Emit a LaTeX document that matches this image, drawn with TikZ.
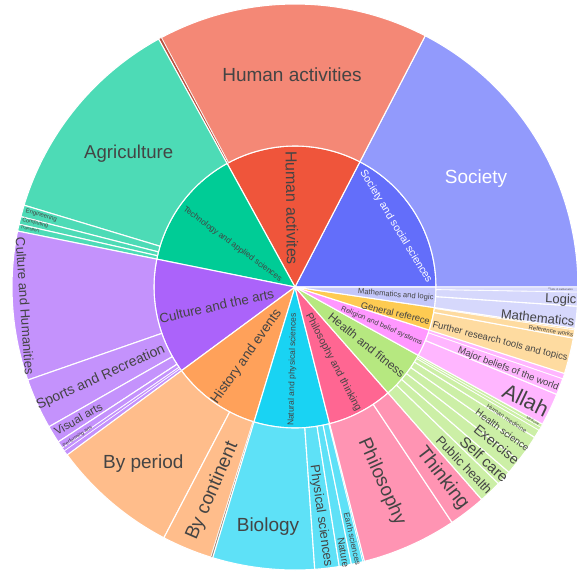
\documentclass[tikz,border=0pt]{standalone}
\usepackage{fontspec}
\setmainfont{Liberation Sans}

\definecolor{society}{HTML}{636EFA}
\definecolor{societyL}{HTML}{929AFC}
\definecolor{human}{HTML}{EF553B}
\definecolor{humanL}{HTML}{F48876}
\definecolor{humanD}{HTML}{B9503E}
\definecolor{techno}{HTML}{00CC96}
\definecolor{technoL}{HTML}{4DDBB6}
\definecolor{culture}{HTML}{AB63FA}
\definecolor{cultureL}{HTML}{C492FC}
\definecolor{history}{HTML}{FFA15A}
\definecolor{historyL}{HTML}{FFBD8B}
\definecolor{historyD}{HTML}{A08A78}
\definecolor{natural}{HTML}{19D3F3}
\definecolor{naturalL}{HTML}{5EE1F7}
\definecolor{philo}{HTML}{FF6692}
\definecolor{philoL}{HTML}{FF94B3}
\definecolor{health}{HTML}{B6E880}
\definecolor{healthL}{HTML}{CCEFA6}
\definecolor{religion}{HTML}{FF97FF}
\definecolor{religionL}{HTML}{FFB6FF}
\definecolor{general}{HTML}{FECB52}
\definecolor{generalL}{HTML}{FEDBA0}
\definecolor{mathlog}{HTML}{C4C7FA}
\definecolor{mathlogL}{HTML}{D6D8FC}
\definecolor{txtgray}{HTML}{444444}

\tikzset{every picture/.style={line width=1pt}}
\tikzset{seg/.style={draw=white,line width=1.1pt,line join=round}}
\tikzset{lbl/.style={text=txtgray,inner sep=0pt}}

\begin{document}
\begin{tikzpicture}[x=1pt,y=1pt]
\useasboundingbox (-295,-285) rectangle (282,287);

%Shape: Sector [Society and social sciences]
\filldraw [seg,fill=society] (0,0) -- (0:141) arc[start angle=0,end angle=62.6,radius=141] -- cycle ;
%Shape: Sector [Human activites]
\filldraw [seg,fill=human] (0,0) -- (62.6:141) arc[start angle=62.6,end angle=118.8,radius=141] -- cycle ;
%Shape: Sector [Technology and applied sciences]
\filldraw [seg,fill=techno] (0,0) -- (118.8:141) arc[start angle=118.8,end angle=168.6,radius=141] -- cycle ;
%Shape: Sector [Culture and the arts]
\filldraw [seg,fill=culture] (0,0) -- (168.6:141) arc[start angle=168.6,end angle=216.4,radius=141] -- cycle ;
%Shape: Sector [History and events]
\filldraw [seg,fill=history] (0,0) -- (216.4:141) arc[start angle=216.4,end angle=253.1,radius=141] -- cycle ;
%Shape: Sector [Natural and physical sciences]
\filldraw [seg,fill=natural] (0,0) -- (253.1:141) arc[start angle=253.1,end angle=284.2,radius=141] -- cycle ;
%Shape: Sector [Philosophy and thinking]
\filldraw [seg,fill=philo] (0,0) -- (284.2:141) arc[start angle=284.2,end angle=311.3,radius=141] -- cycle ;
%Shape: Sector [Health and fitness]
\filldraw [seg,fill=health] (0,0) -- (311.3:141) arc[start angle=311.3,end angle=331,radius=141] -- cycle ;
%Shape: Sector [Religion and belief systems]
\filldraw [seg,fill=religion] (0,0) -- (331:141) arc[start angle=331,end angle=342.2,radius=141] -- cycle ;
%Shape: Sector [General referece]
\filldraw [seg,fill=general] (0,0) -- (342.2:141) arc[start angle=342.2,end angle=351.6,radius=141] -- cycle ;
%Shape: Sector [Mathematics and logic]
\filldraw [seg,fill=mathlog] (0,0) -- (351.6:141) arc[start angle=351.6,end angle=360,radius=141] -- cycle ;

%Shape: Ring Sector [Society]
\filldraw [seg,fill=societyL] (0:141) arc[start angle=0,end angle=62.6,radius=141] -- (62.6:283) arc[start angle=62.6,end angle=0,radius=283] -- cycle ;
%Shape: Ring Sector [Human activities]
\filldraw [seg,fill=humanL] (62.6:141) arc[start angle=62.6,end angle=118.2,radius=141] -- (118.2:283) arc[start angle=118.2,end angle=62.6,radius=283] -- cycle ;
\filldraw [seg,fill=humanD,line width=0.5pt] (118.2:141) arc[start angle=118.2,end angle=118.8,radius=141] -- (118.8:283) arc[start angle=118.8,end angle=118.2,radius=283] -- cycle ;
%Shape: Ring Sector [Agriculture]
\filldraw [seg,fill=technoL] (118.8:141) arc[start angle=118.8,end angle=163.2,radius=141] -- (163.2:283) arc[start angle=163.2,end angle=118.8,radius=283] -- cycle ;
%Shape: Ring Sector [Engineering]
\filldraw [seg,fill=technoL] (163.2:141) arc[start angle=163.2,end angle=165.6,radius=141] -- (165.6:283) arc[start angle=165.6,end angle=163.2,radius=283] -- cycle ;
%Shape: Ring Sector [Computing]
\filldraw [seg,fill=technoL] (165.6:141) arc[start angle=165.6,end angle=167.2,radius=141] -- (167.2:283) arc[start angle=167.2,end angle=165.6,radius=283] -- cycle ;
%Shape: Ring Sector [Transport]
\filldraw [seg,fill=technoL] (167.2:141) arc[start angle=167.2,end angle=168.6,radius=141] -- (168.6:283) arc[start angle=168.6,end angle=167.2,radius=283] -- cycle ;
%Shape: Ring Sector [Culture and Humanities]
\filldraw [seg,fill=cultureL] (168.6:141) arc[start angle=168.6,end angle=199.2,radius=141] -- (199.2:283) arc[start angle=199.2,end angle=168.6,radius=283] -- cycle ;
%Shape: Ring Sector [Sports and Recreation]
\filldraw [seg,fill=cultureL] (199.2:141) arc[start angle=199.2,end angle=209.6,radius=141] -- (209.6:283) arc[start angle=209.6,end angle=199.2,radius=283] -- cycle ;
%Shape: Ring Sector [Visual arts]
\filldraw [seg,fill=cultureL] (209.6:141) arc[start angle=209.6,end angle=213.2,radius=141] -- (213.2:283) arc[start angle=213.2,end angle=209.6,radius=283] -- cycle ;
%Shape: Ring Sector [Performing arts]
\filldraw [seg,fill=cultureL] (213.2:141) arc[start angle=213.2,end angle=214.7,radius=141] -- (214.7:283) arc[start angle=214.7,end angle=213.2,radius=283] -- cycle ;
\filldraw [seg,fill=cultureL,line width=0.6pt] (214.7:141) arc[start angle=214.7,end angle=215.4,radius=141] -- (215.4:283) arc[start angle=215.4,end angle=214.7,radius=283] -- cycle ;
\filldraw [seg,fill=cultureL,line width=0.6pt] (215.4:141) arc[start angle=215.4,end angle=216.4,radius=141] -- (216.4:283) arc[start angle=216.4,end angle=215.4,radius=283] -- cycle ;
%Shape: Ring Sector [By period]
\filldraw [seg,fill=historyL] (216.4:141) arc[start angle=216.4,end angle=242.4,radius=141] -- (242.4:283) arc[start angle=242.4,end angle=216.4,radius=283] -- cycle ;
%Shape: Ring Sector [By continent]
\filldraw [seg,fill=historyL] (242.4:141) arc[start angle=242.4,end angle=252.7,radius=141] -- (252.7:283) arc[start angle=252.7,end angle=242.4,radius=283] -- cycle ;
\filldraw [seg,fill=historyD,line width=0.5pt] (252.7:141) arc[start angle=252.7,end angle=253.1,radius=141] -- (253.1:283) arc[start angle=253.1,end angle=252.7,radius=283] -- cycle ;
%Shape: Ring Sector [Biology]
\filldraw [seg,fill=naturalL] (253.1:141) arc[start angle=253.1,end angle=274,radius=141] -- (274:283) arc[start angle=274,end angle=253.1,radius=283] -- cycle ;
%Shape: Ring Sector [Physical sciences]
\filldraw [seg,fill=naturalL] (274:141) arc[start angle=274,end angle=279,radius=141] -- (279:283) arc[start angle=279,end angle=274,radius=283] -- cycle ;
%Shape: Ring Sector [Nature]
\filldraw [seg,fill=naturalL] (279:141) arc[start angle=279,end angle=281.5,radius=141] -- (281.5:283) arc[start angle=281.5,end angle=279,radius=283] -- cycle ;
%Shape: Ring Sector [Earth sciences]
\filldraw [seg,fill=naturalL] (281.5:141) arc[start angle=281.5,end angle=283.9,radius=141] -- (283.9:283) arc[start angle=283.9,end angle=281.5,radius=283] -- cycle ;
\filldraw [seg,fill=naturalL,line width=0.5pt] (283.9:141) arc[start angle=283.9,end angle=284.2,radius=141] -- (284.2:283) arc[start angle=284.2,end angle=283.9,radius=283] -- cycle ;
%Shape: Ring Sector [Philosophy]
\filldraw [seg,fill=philoL] (284.2:141) arc[start angle=284.2,end angle=303.7,radius=141] -- (303.7:283) arc[start angle=303.7,end angle=284.2,radius=283] -- cycle ;
%Shape: Ring Sector [Thinking]
\filldraw [seg,fill=philoL] (303.7:141) arc[start angle=303.7,end angle=311.3,radius=141] -- (311.3:283) arc[start angle=311.3,end angle=303.7,radius=283] -- cycle ;
%Shape: Ring Sector [Public health]
\filldraw [seg,fill=healthL] (311.3:141) arc[start angle=311.3,end angle=316,radius=141] -- (316:283) arc[start angle=316,end angle=311.3,radius=283] -- cycle ;
%Shape: Ring Sector [Self care]
\filldraw [seg,fill=healthL] (316:141) arc[start angle=316,end angle=319.1,radius=141] -- (319.1:283) arc[start angle=319.1,end angle=316,radius=283] -- cycle ;
%Shape: Ring Sector [Exercise]
\filldraw [seg,fill=healthL] (319.1:141) arc[start angle=319.1,end angle=322.2,radius=141] -- (322.2:283) arc[start angle=322.2,end angle=319.1,radius=283] -- cycle ;
%Shape: Ring Sector [Health science]
\filldraw [seg,fill=healthL] (322.2:141) arc[start angle=322.2,end angle=325.2,radius=141] -- (325.2:283) arc[start angle=325.2,end angle=322.2,radius=283] -- cycle ;
%Shape: Ring Sector [Human medicine]
\filldraw [seg,fill=healthL] (325.2:141) arc[start angle=325.2,end angle=327.9,radius=141] -- (327.9:283) arc[start angle=327.9,end angle=325.2,radius=283] -- cycle ;
%Shape: Ring Sector [Medicine]
\filldraw [seg,fill=healthL] (327.9:141) arc[start angle=327.9,end angle=329.6,radius=141] -- (329.6:283) arc[start angle=329.6,end angle=327.9,radius=283] -- cycle ;
\filldraw [seg,fill=healthL,line width=0.6pt] (329.6:141) arc[start angle=329.6,end angle=330.3,radius=141] -- (330.3:283) arc[start angle=330.3,end angle=329.6,radius=283] -- cycle ;
\filldraw [seg,fill=healthL,line width=0.6pt] (330.3:141) arc[start angle=330.3,end angle=331,radius=141] -- (331:283) arc[start angle=331,end angle=330.3,radius=283] -- cycle ;
%Shape: Ring Sector [Allah]
\filldraw [seg,fill=religionL] (331:141) arc[start angle=331,end angle=337.7,radius=141] -- (337.7:283) arc[start angle=337.7,end angle=331,radius=283] -- cycle ;
%Shape: Ring Sector [Major beliefs of the world]
\filldraw [seg,fill=religionL] (337.7:141) arc[start angle=337.7,end angle=341.1,radius=141] -- (341.1:283) arc[start angle=341.1,end angle=337.7,radius=283] -- cycle ;
\filldraw [seg,fill=religionL,line width=0.6pt] (341.1:141) arc[start angle=341.1,end angle=342.2,radius=141] -- (342.2:283) arc[start angle=342.2,end angle=341.1,radius=283] -- cycle ;
%Shape: Ring Sector [Further research tools and topics]
\filldraw [seg,fill=generalL] (342.2:141) arc[start angle=342.2,end angle=349.6,radius=141] -- (349.6:283) arc[start angle=349.6,end angle=342.2,radius=283] -- cycle ;
%Shape: Ring Sector [Reference works]
\filldraw [seg,fill=generalL] (349.6:141) arc[start angle=349.6,end angle=351.3,radius=141] -- (351.3:283) arc[start angle=351.3,end angle=349.6,radius=283] -- cycle ;
\filldraw [seg,fill=generalL,line width=0.5pt] (351.3:141) arc[start angle=351.3,end angle=351.6,radius=141] -- (351.6:283) arc[start angle=351.6,end angle=351.3,radius=283] -- cycle ;
%Shape: Ring Sector [Mathematics]
\filldraw [seg,fill=mathlogL] (351.6:141) arc[start angle=351.6,end angle=356.1,radius=141] -- (356.1:283) arc[start angle=356.1,end angle=351.6,radius=283] -- cycle ;
%Shape: Ring Sector [Logic]
\filldraw [seg,fill=mathlogL] (356.1:141) arc[start angle=356.1,end angle=359,radius=141] -- (359:283) arc[start angle=359,end angle=356.1,radius=283] -- cycle ;
%Shape: Ring Sector [Fields of mathematics]
\filldraw [seg,fill=mathlogL,line width=0.6pt] (359:141) arc[start angle=359,end angle=360,radius=141] -- (360:283) arc[start angle=360,end angle=359,radius=283] -- cycle ;

% Text Node
\node [lbl,rotate=-89.3,font=\fontsize{16}{16}\selectfont] (tHumanIn) at (-3,79) {Human activites};
% Text Node
\node [lbl,text=white,rotate=-58.7,font=\fontsize{10.6}{10.6}\selectfont] (tSocietyIn) at (100.8,60.3) {Society and social sciences};
% Text Node
\node [lbl,rotate=-36.3,font=\fontsize{8.2}{8.2}\selectfont] (tTechIn) at (-62.5,42.8) {Technology and applied sciences};
% Text Node
\node [lbl,rotate=12.5,font=\fontsize{13.3}{13.3}\selectfont] (tCultureIn) at (-78.3,-18.8) {Culture and the arts};
% Text Node
\node [lbl,rotate=54.7,font=\fontsize{13.5}{13.5}\selectfont] (tHistoryIn) at (-48.3,-69.7) {History and events};
% Text Node
\node [lbl,rotate=88.7,font=\fontsize{8.5}{8.5}\selectfont] (tNaturalIn) at (-2.5,-82.7) {Natural and physical sciences};
% Text Node
\node [lbl,rotate=-62.2,font=\fontsize{10.3}{10.3}\selectfont] (tPhiloIn) at (38.3,-75.5) {Philosophy and thinking};
% Text Node
\node [lbl,rotate=-38.9,font=\fontsize{11.8}{11.8}\selectfont] (tHealthIn) at (71.7,-58) {Health and fitness};
% Text Node
\node [lbl,rotate=-23.4,font=\fontsize{7.2}{7.2}\selectfont] (tReligionIn) at (86.7,-38.8) {Religion and belief systems};
% Text Node
\node [lbl,rotate=-13.1,font=\fontsize{9.4}{9.4}\selectfont] (tGeneralIn) at (100.5,-26) {General referece};
% Text Node
\node [lbl,rotate=-4.6,font=\fontsize{7.6}{7.6}\selectfont] (tMathIn) at (100.8,-8) {Mathematics and logic};

% Text Node
\node [lbl,font=\fontsize{19}{19}\selectfont] (tHumanOut) at (-3,212) {Human activities};
% Text Node
\node [lbl,text=white,font=\fontsize{19}{19}\selectfont] (tSocietyOut) at (181,108) {Society};
% Text Node
\node [lbl,font=\fontsize{18.6}{18.6}\selectfont] (tAgri) at (-166.3,133) {Agriculture};
% Text Node
\node [lbl,rotate=-15.6,font=\fontsize{6}{6}\selectfont] (tEngin) at (-253.7,71.5) {Engineering};
% Text Node
\node [lbl,rotate=-13.6,font=\fontsize{5.5}{5.5}\selectfont] (tComput) at (-259.7,64) {Computing};
% Text Node
\node [lbl,rotate=-12.1,font=\fontsize{4.5}{4.5}\selectfont] (tTransp) at (-265,57.7) {Transport};
% Text Node
\node [lbl,rotate=-86.1,font=\fontsize{13.2}{13.2}\selectfont] (tCultHum) at (-270,-19) {Culture and Humanities};
% Text Node
\node [lbl,rotate=24.4,font=\fontsize{14}{14}\selectfont] (tSports) at (-194.2,-90.5) {Sports and Recreation};
% Text Node
\node [lbl,rotate=30,font=\fontsize{11.5}{11.5}\selectfont] (tVisual) at (-216.7,-132) {Visual arts};
% Text Node
\node [lbl,rotate=34,font=\fontsize{5}{5}\selectfont] (tPerform) at (-217.5,-149.7) {Performing arts};
% Text Node
\node [lbl,font=\fontsize{19}{19}\selectfont] (tPeriod) at (-151.7,-176.3) {By period};
% Text Node
\node [lbl,rotate=66.5,font=\fontsize{19}{19}\selectfont] (tContinent) at (-82.5,-203.8) {By continent};
% Text Node
\node [lbl,font=\fontsize{19}{19}\selectfont] (tBiology) at (-27,-240) {Biology};
% Text Node
\node [lbl,rotate=-82,font=\fontsize{13}{13}\selectfont] (tPhysical) at (26,-229) {Physical sciences};
% Text Node
\node [lbl,rotate=-79.7,font=\fontsize{10}{10}\selectfont] (tNature) at (48.3,-265.5) {Nature};
% Text Node
\node [lbl,rotate=-77.3,font=\fontsize{8.2}{8.2}\selectfont] (tEarth) at (57.5,-252) {Earth sciences};
% Text Node
\node [lbl,rotate=-66,font=\fontsize{19}{19}\selectfont] (tPhiloOut) at (86.7,-194.7) {Philosophy};
% Text Node
\node [lbl,rotate=-52.5,font=\fontsize{19.5}{19.5}\selectfont] (tThinking) at (147.5,-191.3) {Thinking};
% Text Node
\node [lbl,rotate=-46.3,font=\fontsize{13}{13}\selectfont] (tPublic) at (169.2,-178) {Public health};
% Text Node
\node [lbl,rotate=-42.4,font=\fontsize{15}{15}\selectfont] (tSelf) at (189.2,-172.2) {Self care};
% Text Node
\node [lbl,rotate=-39.3,font=\fontsize{14}{14}\selectfont] (tExercise) at (201.7,-157.2) {Exercise};
% Text Node
\node [lbl,rotate=-36.3,font=\fontsize{9.7}{9.7}\selectfont] (tHealthSci) at (207.5,-143) {Health science};
% Text Node
\node [lbl,rotate=-33.4,font=\fontsize{6.2}{6.2}\selectfont] (tHumMed) at (211.7,-131.3) {Human medicine};
% Text Node
\node [lbl,rotate=-31.3,font=\fontsize{3.5}{3.5}\selectfont] (tMedicine) at (238,-134) {Medicine};
% Text Node
\node [lbl,rotate=-25.6,font=\fontsize{21.5}{21.5}\selectfont] (tAllah) at (230.8,-113) {Allah};
% Text Node
\node [lbl,rotate=-20.6,font=\fontsize{9.6}{9.6}\selectfont] (tBeliefs) at (213.3,-82.2) {Major beliefs of the world};
% Text Node
\node [lbl,rotate=-14.1,font=\fontsize{9.5}{9.5}\selectfont] (tFurther) at (205,-54.7) {Further research tools and topics};
% Text Node
\node [lbl,rotate=-9.5,font=\fontsize{6}{6}\selectfont] (tRefWorks) at (256,-44) {Reference works};
% Text Node
\node [lbl,rotate=-6.1,font=\fontsize{13}{13}\selectfont] (tMaths) at (242.8,-30.5) {Mathematics};
% Text Node
\node [lbl,rotate=-2.4,font=\fontsize{13}{13}\selectfont] (tLogic) at (265.8,-13) {Logic};
% Text Node
\node [lbl,rotate=-0.5,font=\fontsize{2.5}{2.5}\selectfont] (tFields) at (265.8,-2.2) {Fields of mathematics};

\end{tikzpicture}
\end{document}
